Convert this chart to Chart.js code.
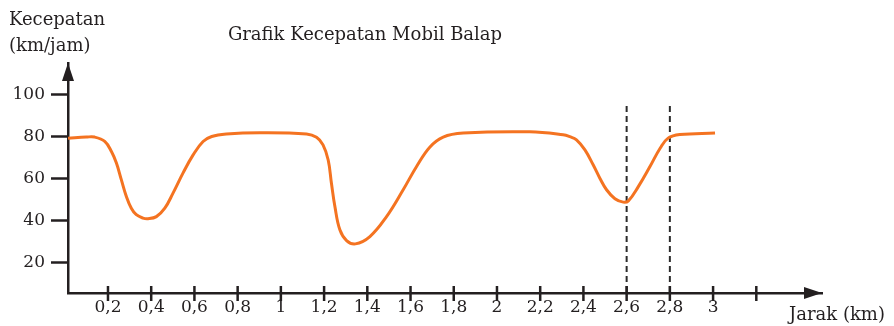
<!DOCTYPE html>
<html>
<head>
<meta charset="utf-8">
<script src="https://cdn.jsdelivr.net/npm/chart.js@4/dist/chart.umd.min.js"></script>
<style>
  html, body { margin: 0; padding: 0; background: #ffffff; }
  #wrap { width: 894px; height: 326px; position: relative; }
</style>
</head>
<body>
<div id="wrap"><canvas id="c" width="894" height="326"></canvas></div>
<script>
// ---- data ----
const chartTitle = "Grafik Kecepatan Mobil Balap";
const yTitleLines = ["Kecepatan", "(km/jam)"];
const xTitle = "Jarak (km)";
const distanceKm = [0.015, 0.100, 0.138, 0.185, 0.216, 0.239, 0.262, 0.285, 0.308, 0.331, 0.362, 0.385, 0.424, 0.463, 0.501, 0.547, 0.594, 0.640, 0.680, 0.748, 0.902, 1.119, 1.165, 1.195, 1.219, 1.234, 1.250, 1.273, 1.304, 1.345, 1.412, 1.489, 1.566, 1.628, 1.689, 1.751, 1.844, 2.152, 2.306, 2.337, 2.368, 2.407, 2.445, 2.476, 2.507, 2.546, 2.584, 2.608, 2.654, 2.708, 2.755, 2.792, 2.846, 3.009];
const speedKmh   = [79.4, 79.9, 79.9, 77.8, 73.0, 67.5, 59.5, 51.6, 46.0, 42.9, 41.3, 41.0, 42.0, 46.0, 53.2, 62.7, 71.4, 77.8, 80.2, 81.4, 82.0, 81.4, 79.8, 76.2, 69.0, 57.9, 46.8, 35.7, 30.6, 29.0, 32.5, 42.0, 54.8, 65.9, 75.1, 79.9, 81.8, 82.4, 81.0, 80.1, 78.6, 73.8, 66.7, 60.3, 54.8, 50.5, 48.9, 49.5, 56.3, 65.9, 74.6, 79.4, 81.1, 81.8];
const xTickValues = [0.2, 0.4, 0.6, 0.8, 1, 1.2, 1.4, 1.6, 1.8, 2, 2.2, 2.4, 2.6, 2.8, 3, 3.2];
const xTickLabels = ["0,2", "0,4", "0,6", "0,8", "1", "1,2", "1,4", "1,6", "1,8", "2", "2,2", "2,4", "2,6", "2,8", "3", ""];
const yTickValues = [20, 40, 60, 80, 100];
const markerKm = [2.6, 2.8];
const markerTop = 94.7;

const INK = "#231f20";
const ORANGE = "#f47321";
const FONT = "'DejaVu Serif', 'Liberation Serif', serif";

const points = distanceKm.map((d, i) => ({ x: d, y: speedKmh[i] }));

const decor = {
  id: "decor",
  beforeDatasetsDraw(chart) {
    const { ctx, scales: { x, y } } = chart;
    ctx.save();
    ctx.strokeStyle = "#2b2b2b";
    ctx.lineWidth = 2;
    ctx.setLineDash([6, 4]);
    markerKm.forEach(m => {
      const px = x.getPixelForValue(m);
      ctx.beginPath();
      ctx.moveTo(px, y.getPixelForValue(markerTop));
      ctx.lineTo(px, y.bottom);
      ctx.stroke();
    });
    ctx.restore();
  },
  afterDraw(chart) {
    const { ctx, chartArea: ca, scales: { x, y } } = chart;
    ctx.save();
    ctx.strokeStyle = INK;
    ctx.fillStyle = INK;
    ctx.lineWidth = 2.5;
    xTickValues.forEach(v => {
      const px = x.getPixelForValue(v);
      ctx.beginPath();
      ctx.moveTo(px, ca.bottom - 7);
      ctx.lineTo(px, ca.bottom + 8);
      ctx.stroke();
    });
    ctx.beginPath();
    ctx.moveTo(ca.left, ca.top);
    ctx.lineTo(ca.left - 6, ca.top + 18);
    ctx.lineTo(ca.left + 6, ca.top + 18);
    ctx.closePath();
    ctx.fill();
    ctx.beginPath();
    ctx.moveTo(ca.right, ca.bottom);
    ctx.lineTo(ca.right - 18, ca.bottom - 6);
    ctx.lineTo(ca.right - 18, ca.bottom + 6);
    ctx.closePath();
    ctx.fill();
    ctx.textBaseline = "alphabetic";
    ctx.textAlign = "left";
    ctx.font = "18px " + FONT;
    ctx.fillText(yTitleLines[0], 9, 25);
    ctx.fillText(yTitleLines[1], 9, 51);
    ctx.textAlign = "center";
    ctx.fillText(chartTitle, 365, 40);
    ctx.textAlign = "left";
    ctx.fillText(xTitle, 789, 320);
    ctx.restore();
  }
};

new Chart(document.getElementById("c"), {
  type: "line",
  data: {
    datasets: [{
      data: points,
      borderColor: ORANGE,
      borderWidth: 3,
      pointRadius: 0,
      fill: false,
      tension: 0.4
    }]
  },
  options: {
    responsive: false,
    animation: false,
    events: [],
    layout: { padding: { top: 63, right: 72, left: 0, bottom: 0 } },
    plugins: { legend: { display: false }, tooltip: { enabled: false }, title: { display: false } },
    scales: {
      x: {
        type: "linear",
        min: 0.015,
        max: 3.504,
        afterFit(s) { s.height = 33; },
        afterBuildTicks(s) { s.ticks = xTickValues.map(v => ({ value: v })); },
        grid: { display: false, drawTicks: false },
        border: { display: true, color: INK, width: 2.5 },
        ticks: {
          padding: 4,
          color: INK,
          maxRotation: 0,
          autoSkip: false,
          font: { family: FONT, size: 17 },
          callback: (v, i) => xTickLabels[i]
        }
      },
      y: {
        type: "linear",
        min: 5.6,
        max: 115.2,
        afterFit(s) { s.width = 68; },
        afterBuildTicks(s) { s.ticks = yTickValues.map(v => ({ value: v })); },
        grid: { drawOnChartArea: false, drawTicks: true, tickLength: 17, tickColor: INK, tickWidth: 2.5 },
        border: { display: true, color: INK, width: 2.5 },
        ticks: {
          padding: 6,
          color: INK,
          font: { family: FONT, size: 17 },
          callback: v => String(v)
        }
      }
    }
  },
  plugins: [decor]
});
</script>
</body>
</html>
